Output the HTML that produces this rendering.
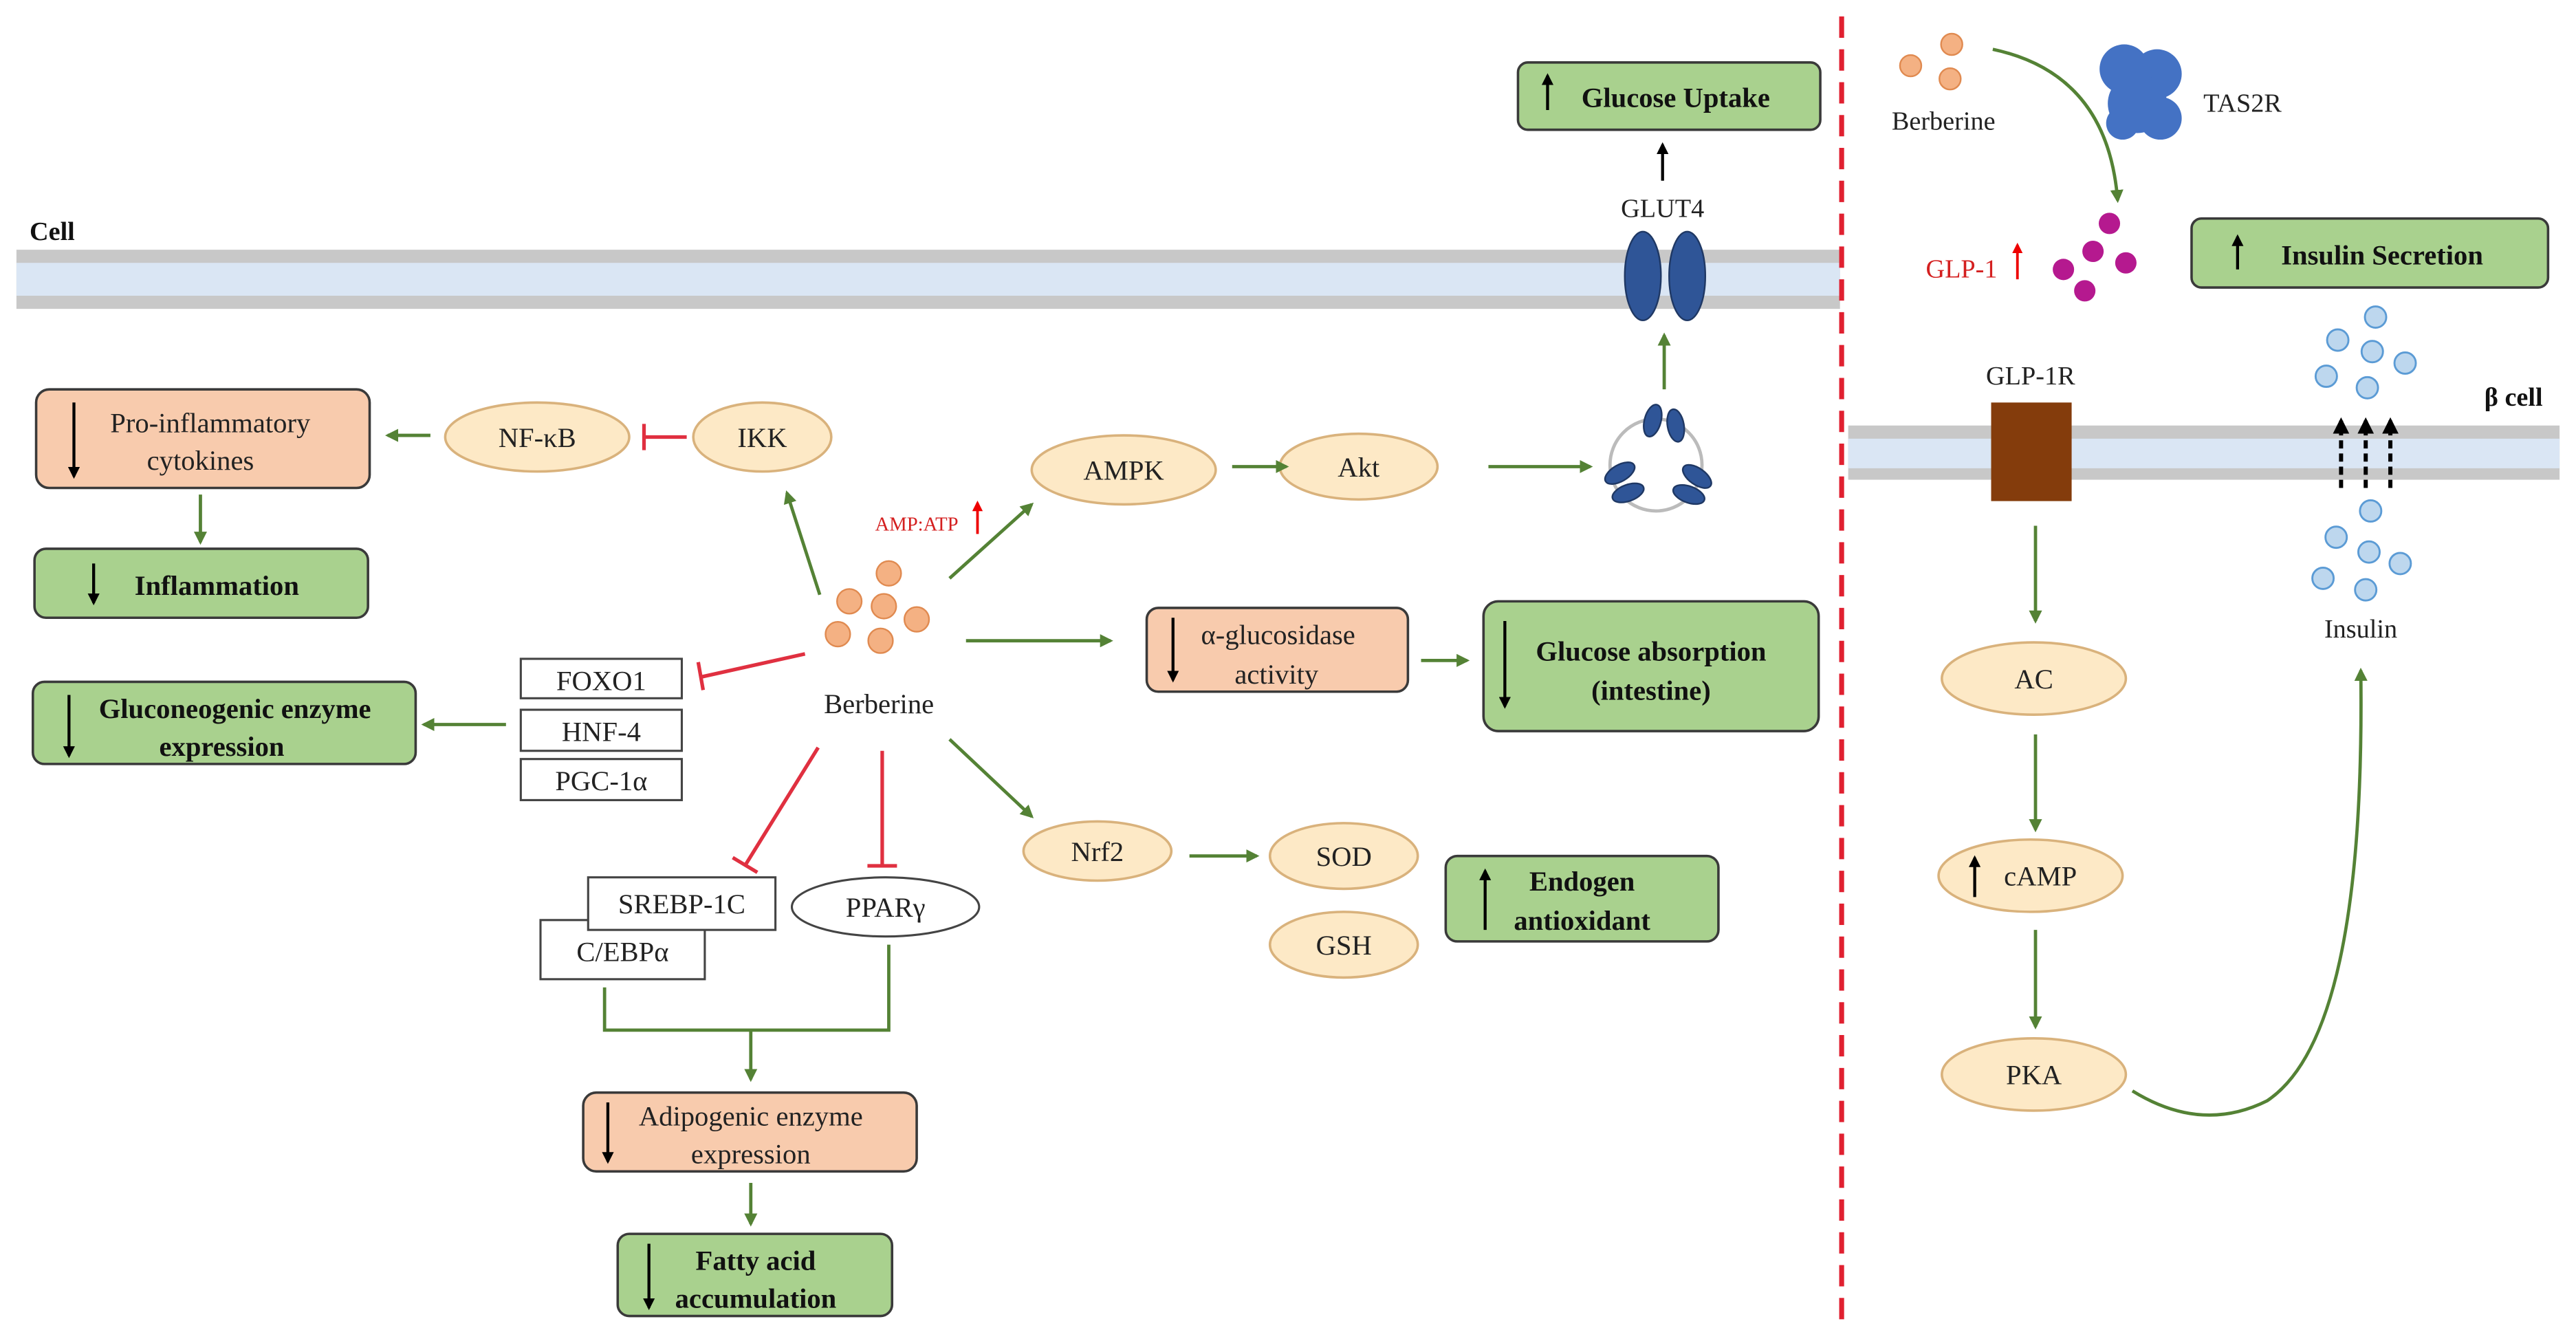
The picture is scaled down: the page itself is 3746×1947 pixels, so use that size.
<!DOCTYPE html>
<html><head><meta charset="utf-8"><style>
html,body{margin:0;padding:0;background:#fff}
svg{display:block}
text{font-family:"Liberation Serif",serif;fill:#222}
.b{font-weight:bold;fill:#111}
</style></head><body>
<svg width="3746" height="1947" viewBox="0 0 1568 815" preserveAspectRatio="none" xmlns="http://www.w3.org/2000/svg">
<defs>
<marker id="g" viewBox="0 0 10 10" refX="8" refY="5" markerWidth="4" markerHeight="4" orient="auto"><path d="M0,0L10,5L0,10z" fill="#548235"/></marker>
<marker id="k" viewBox="0 0 10 10" refX="8" refY="5" markerWidth="4" markerHeight="4" orient="auto"><path d="M0,0L10,5L0,10z" fill="#000"/></marker>
<marker id="r" viewBox="0 0 10 10" refX="8" refY="5" markerWidth="4" markerHeight="4" orient="auto"><path d="M0,0L10,5L0,10z" fill="#e00"/></marker>
<marker id="t" viewBox="0 0 10 10" refX="5" refY="5" markerWidth="6" markerHeight="6" orient="auto"><path d="M5,0L5,10" stroke="#e03040" stroke-width="2.5"/></marker>
</defs>
<!-- membranes -->
<rect x="10" y="152" width="1110" height="36" fill="#c8c8c8"/>
<rect x="10" y="160" width="1110" height="20" fill="#dae6f4"/>
<rect x="1125" y="259" width="433" height="33" fill="#c8c8c8"/>
<rect x="1125" y="267" width="433" height="18" fill="#dae6f4"/>
<line x1="1121" y1="10" x2="1121" y2="805" stroke="#e02030" stroke-width="3" stroke-dasharray="13,7"/>
<text x="18" y="146" class="b" font-size="16">Cell</text>

<g stroke="#3a3a3a" stroke-width="1.5">
<rect x="22" y="237" width="203" height="60" rx="8" fill="#f8cbad"/>
<rect x="21" y="334" width="203" height="42" rx="7" fill="#a9d18e"/>
<rect x="20" y="415" width="233" height="50" rx="7" fill="#a9d18e"/>
<rect x="924" y="38" width="184" height="41" rx="6" fill="#a9d18e"/>
<rect x="698" y="370" width="159" height="51" rx="7" fill="#f8cbad"/>
<rect x="903" y="366" width="204" height="79" rx="9" fill="#a9d18e"/>
<rect x="880" y="521" width="166" height="52" rx="7" fill="#a9d18e"/>
<rect x="355" y="665" width="203" height="48" rx="8" fill="#f8cbad"/>
<rect x="376" y="751" width="167" height="50" rx="7" fill="#a9d18e"/>
<rect x="1334" y="133" width="217" height="42" rx="6" fill="#a9d18e"/>
</g>
<g stroke="#444" stroke-width="1.3" fill="#fff">
<rect x="317" y="401" width="98" height="24"/>
<rect x="317" y="432" width="98" height="25"/>
<rect x="317" y="462" width="98" height="25"/>
<rect x="329" y="560" width="100" height="36"/>
<rect x="358" y="534" width="114" height="32"/>
<ellipse cx="539" cy="552" rx="57" ry="18"/>
</g>
<g fill="#fde9c6" stroke="#d9b27c" stroke-width="1.5">
<ellipse cx="327" cy="266" rx="56" ry="21"/>
<ellipse cx="464" cy="266" rx="42" ry="21"/>
<ellipse cx="684" cy="286" rx="56" ry="21"/>
<ellipse cx="827" cy="284" rx="48" ry="20"/>
<ellipse cx="668" cy="518" rx="45" ry="18"/>
<ellipse cx="818" cy="521" rx="45" ry="20"/>
<ellipse cx="818" cy="575" rx="45" ry="20"/>
<ellipse cx="1238" cy="413" rx="56" ry="22"/>
<ellipse cx="1236" cy="533" rx="56" ry="22"/>
<ellipse cx="1238" cy="654" rx="56" ry="22"/>
</g>
<!-- berberine dots -->
<g fill="#f4b183" stroke="#e08a50" stroke-width="1">
<circle cx="541" cy="349" r="7.5"/><circle cx="517" cy="366" r="7.5"/><circle cx="538" cy="369" r="7.5"/><circle cx="558" cy="377" r="7.5"/><circle cx="510" cy="386" r="7.5"/><circle cx="536" cy="390" r="7.5"/>
<circle cx="1163" cy="40" r="6.5"/><circle cx="1188" cy="27" r="6.5"/><circle cx="1187" cy="48" r="6.5"/>
</g>
<!-- GLUT4 / vesicle -->
<circle cx="1008" cy="283" r="28" fill="none" stroke="#bbb" stroke-width="2"/>
<g fill="#2f5597" stroke="#1f3864" stroke-width="1">
<ellipse cx="1000" cy="168" rx="11" ry="27"/><ellipse cx="1027" cy="168" rx="11" ry="27"/>
<ellipse cx="1006" cy="256" rx="5" ry="10" transform="rotate(15 1006 256)"/>
<ellipse cx="1020" cy="259" rx="5" ry="10" transform="rotate(-10 1020 259)"/>
<ellipse cx="986" cy="288" rx="5" ry="10" transform="rotate(60 986 288)"/>
<ellipse cx="991" cy="300" rx="5" ry="10" transform="rotate(70 991 300)"/>
<ellipse cx="1033" cy="290" rx="5" ry="10" transform="rotate(-55 1033 290)"/>
<ellipse cx="1028" cy="301" rx="5" ry="10" transform="rotate(-70 1028 301)"/>
</g>
<!-- TAS2R blob -->
<g fill="#4472c4">
<circle cx="1293" cy="42" r="15"/><circle cx="1313" cy="45" r="15"/><circle cx="1301" cy="63" r="18"/><circle cx="1315" cy="72" r="13"/><circle cx="1292" cy="75" r="10"/>
</g>
<g fill="#b5198f">
<circle cx="1284" cy="136" r="6.5"/><circle cx="1274" cy="153" r="6.5"/><circle cx="1294" cy="160" r="6.5"/><circle cx="1256" cy="164" r="6.5"/><circle cx="1269" cy="177" r="6.5"/>
</g>
<g fill="#bdd7ee" stroke="#5b9bd5" stroke-width="1.2">
<circle cx="1446" cy="193" r="6.5"/><circle cx="1423" cy="207" r="6.5"/><circle cx="1444" cy="214" r="6.5"/><circle cx="1464" cy="221" r="6.5"/><circle cx="1416" cy="229" r="6.5"/><circle cx="1441" cy="236" r="6.5"/>
<circle cx="1443" cy="311" r="6.5"/><circle cx="1422" cy="327" r="6.5"/><circle cx="1442" cy="336" r="6.5"/><circle cx="1461" cy="343" r="6.5"/><circle cx="1414" cy="352" r="6.5"/><circle cx="1440" cy="359" r="6.5"/>
</g>
<rect x="1212" y="245" width="49" height="60" fill="#843c0c"/>

<!-- green arrows -->
<g stroke="#548235" stroke-width="2" fill="none" marker-end="url(#g)">
<line x1="262" y1="265" x2="236" y2="265"/>
<line x1="122" y1="301" x2="122" y2="330"/>
<line x1="499" y1="362" x2="479" y2="300"/>
<line x1="578" y1="352" x2="628" y2="307"/>
<line x1="750" y1="284" x2="783" y2="284"/>
<line x1="906" y1="284" x2="968" y2="284"/>
<line x1="1013" y1="237" x2="1013" y2="204"/>
<line x1="588" y1="390" x2="676" y2="390"/>
<line x1="865" y1="402" x2="893" y2="402"/>
<line x1="308" y1="441" x2="258" y2="441"/>
<line x1="578" y1="450" x2="628" y2="497"/>
<line x1="724" y1="521" x2="765" y2="521"/>
<line x1="457" y1="627" x2="457" y2="657"/>
<line x1="457" y1="720" x2="457" y2="745"/>
<line x1="1239" y1="320" x2="1239" y2="378"/>
<line x1="1239" y1="447" x2="1239" y2="505"/>
<line x1="1239" y1="566" x2="1239" y2="625"/>
<path d="M1213,30 Q1283,45 1289,122"/>
<path d="M1298,664 Q1340,690 1380,670 Q1440,630 1437,408"/>
</g>
<polyline points="368,601 368,627 541,627 541,575" fill="none" stroke="#548235" stroke-width="2"/>
<!-- red inhibitions -->
<g stroke="#e03040" stroke-width="2.2" fill="none">
<line x1="418" y1="266" x2="392" y2="266"/><line x1="392" y1="258" x2="392" y2="274"/>
<line x1="490" y1="398" x2="427" y2="412"/><line x1="425" y1="403" x2="428" y2="420"/>
<line x1="498" y1="455" x2="454" y2="526"/><line x1="446" y1="522" x2="461" y2="531"/>
<line x1="537" y1="457" x2="537" y2="527"/><line x1="528" y1="527" x2="546" y2="527"/>
</g>
<!-- black arrows -->
<g stroke="#000" stroke-width="1.8" marker-end="url(#k)">
<line x1="1012" y1="110" x2="1012" y2="88"/>
<line x1="45" y1="245" x2="45" y2="290"/>
<line x1="57" y1="343" x2="57" y2="367"/>
<line x1="42" y1="423" x2="42" y2="460"/>
<line x1="714" y1="376" x2="714" y2="414"/>
<line x1="916" y1="378" x2="916" y2="430"/>
<line x1="904" y1="566" x2="904" y2="530"/>
<line x1="370" y1="671" x2="370" y2="707"/>
<line x1="395" y1="757" x2="395" y2="796"/>
<line x1="942" y1="67" x2="942" y2="46"/>
<line x1="1362" y1="164" x2="1362" y2="144"/>
<line x1="1202" y1="546" x2="1202" y2="522"/>
</g>
<g stroke="#000" stroke-width="2.5" stroke-dasharray="5,3" marker-end="url(#k)">
<line x1="1425" y1="297" x2="1425" y2="256"/><line x1="1440" y1="297" x2="1440" y2="256"/><line x1="1455" y1="297" x2="1455" y2="256"/>
</g>
<g stroke="#e00" stroke-width="1.6" marker-end="url(#r)">
<line x1="595" y1="325" x2="595" y2="306"/>
<line x1="1228" y1="170" x2="1228" y2="149"/>
</g>

<!-- text -->
<g font-size="17" text-anchor="middle">
<text x="128" y="263">Pro-inflammatory</text>
<text x="122" y="286">cytokines</text>
<text x="327" y="272">NF-κB</text>
<text x="464" y="272">IKK</text>
<text x="684" y="292">AMPK</text>
<text x="827" y="290">Akt</text>
<text x="1012" y="132" font-size="16">GLUT4</text>
<text x="535" y="434">Berberine</text>
<text x="778" y="392">α-glucosidase</text>
<text x="777" y="416">activity</text>
<text x="366" y="420">FOXO1</text>
<text x="366" y="451">HNF-4</text>
<text x="366" y="481">PGC-1α</text>
<text x="668" y="524">Nrf2</text>
<text x="818" y="527">SOD</text>
<text x="818" y="581">GSH</text>
<text x="415" y="556">SREBP-1C</text>
<text x="379" y="585">C/EBPα</text>
<text x="539" y="558">PPARγ</text>
<text x="457" y="685">Adipogenic enzyme</text>
<text x="457" y="708">expression</text>
<text x="1183" y="79" font-size="16">Berberine</text>
<text x="1365" y="68" font-size="16">TAS2R</text>
<text x="1236" y="234" font-size="16">GLP-1R</text>
<text x="1437" y="388" font-size="16">Insulin</text>
<text x="1238" y="419">AC</text>
<text x="1242" y="539">cAMP</text>
<text x="1238" y="660">PKA</text>
</g>
<text x="1194" y="169" font-size="16" text-anchor="middle" style="fill:#d42020">GLP-1</text>
<text x="558" y="323" font-size="12" text-anchor="middle" style="fill:#d42020">AMP:ATP</text>
<g font-size="17" text-anchor="middle" class="b">
<text x="132" y="362" class="b">Inflammation</text>
<text x="143" y="437" class="b">Gluconeogenic enzyme</text>
<text x="135" y="460" class="b">expression</text>
<text x="1020" y="65" class="b">Glucose Uptake</text>
<text x="1005" y="402" class="b">Glucose absorption</text>
<text x="1005" y="426" class="b">(intestine)</text>
<text x="963" y="542" class="b">Endogen</text>
<text x="963" y="566" class="b">antioxidant</text>
<text x="460" y="773" class="b">Fatty acid</text>
<text x="460" y="796" class="b">accumulation</text>
<text x="1450" y="161" class="b">Insulin Secretion</text>
<text x="1530" y="247" class="b" font-size="16">β cell</text>
</g>
</svg>
</body></html>
